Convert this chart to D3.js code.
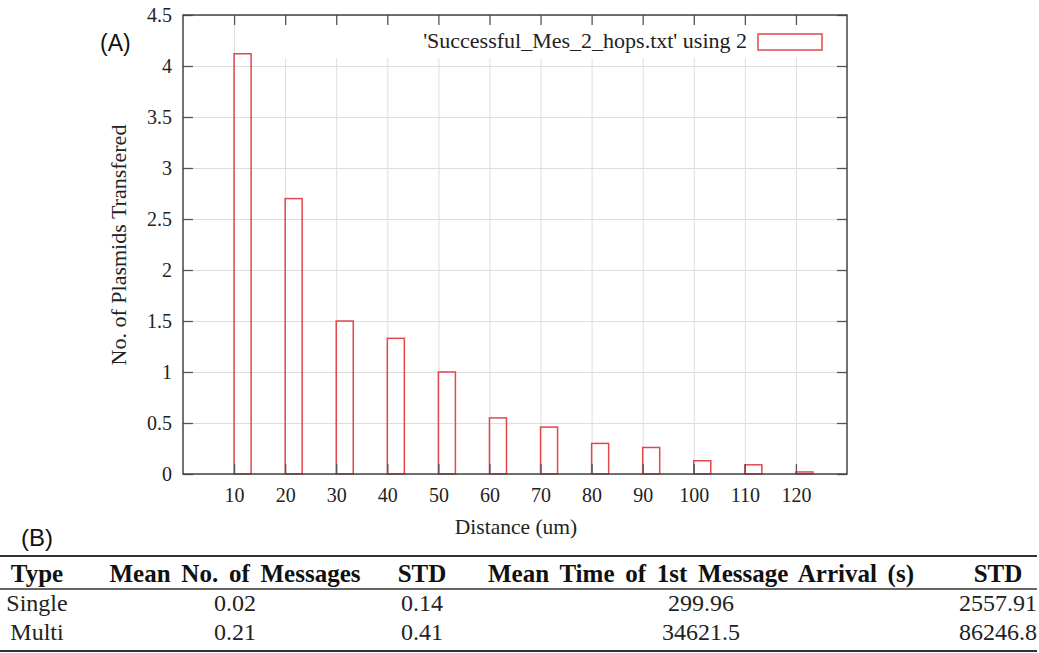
<!DOCTYPE html>
<html>
<head>
<meta charset="utf-8">
<script src="https://cdn.jsdelivr.net/npm/d3@7"></script>
<style>
  html, body { margin: 0; padding: 0; background: #fff; }
  svg { display: block; }
</style>
</head>
<body>
<svg id="fig" width="1039" height="653"></svg>
<script>
// ---- data ----
const distances = [10, 20, 30, 40, 50, 60, 70, 80, 90, 100, 110, 120];
const plasmids  = [4.12, 2.70, 1.50, 1.33, 1.00, 0.55, 0.46, 0.30, 0.26, 0.13, 0.09, 0.02];
const yTicks    = [0, 0.5, 1, 1.5, 2, 2.5, 3, 3.5, 4, 4.5];
const seriesLabel = "'Successful_Mes_2_hops.txt' using 2";
const xTitle = "Distance (um)";
const yTitle = "No. of Plasmids Transfered";

const tableHeader  = ["Type", "Mean No. of Messages", "STD", "Mean Time of 1st Message Arrival (s)", "STD"];
const tableTypes   = ["Single", "Multi"];
const meanMessages = ["0.02", "0.21"];
const stdMessages  = ["0.14", "0.41"];
const meanArrival  = ["299.96", "34621.5"];
const stdArrival   = ["2557.91", "86246.8"];

// ---- layout ----
const serif = "'Liberation Serif', 'Times New Roman', serif";
const sans  = "'Liberation Sans', Arial, sans-serif";
const plot = { left: 183, right: 847, top: 15, bottom: 474 };
const barSpan = 10 / 3;           // box width in data units

const svg = d3.select("#fig");

const x = d3.scaleLinear().domain([0, 130]).range([plot.left, plot.right]);
const y = d3.scaleLinear().domain([0, 4.5]).range([plot.bottom, plot.top]);
const fmt = d => String(d);

// grid
const grid = svg.append("g").attr("class", "grid");
grid.append("g")
  .attr("transform", `translate(0,${plot.bottom})`)
  .call(d3.axisBottom(x).tickValues(distances).tickSize(-(plot.bottom - plot.top)).tickFormat(""));
grid.append("g")
  .attr("transform", `translate(${plot.left},0)`)
  .call(d3.axisLeft(y).tickValues(yTicks).tickSize(-(plot.right - plot.left)).tickFormat(""));
grid.selectAll(".domain").remove();
grid.selectAll("line").attr("stroke", "#dedede").attr("stroke-width", 1);

// opaque key area
svg.append("rect")
  .attr("x", 242).attr("y", 18)
  .attr("width", plot.right - 242 - 1).attr("height", 40)
  .attr("fill", "#fff");

// bars (empty boxes)
svg.append("g").selectAll("rect")
  .data(distances.map((d, i) => ({ d, v: plasmids[i] })))
  .join("rect")
  .attr("x", p => x(p.d))
  .attr("y", p => y(p.v))
  .attr("width", p => x(p.d + barSpan) - x(p.d))
  .attr("height", p => y(0) - y(p.v))
  .attr("fill", "none")
  .attr("stroke", "#e2474c")
  .attr("stroke-width", 1.5);

// axes with inward ticks
const tickLen = 10;
const axL = svg.append("g").attr("transform", `translate(${plot.left},0)`)
  .call(d3.axisLeft(y).tickValues(yTicks).tickSize(-tickLen).tickPadding(11).tickFormat(fmt));
const axR = svg.append("g").attr("transform", `translate(${plot.right},0)`)
  .call(d3.axisRight(y).tickValues(yTicks).tickSize(-tickLen).tickFormat(""));
const axB = svg.append("g").attr("transform", `translate(0,${plot.bottom})`)
  .call(d3.axisBottom(x).tickValues(distances).tickSize(-tickLen).tickPadding(14).tickFormat(fmt));
const axT = svg.append("g").attr("transform", `translate(0,${plot.top})`)
  .call(d3.axisTop(x).tickValues(distances).tickSize(-tickLen).tickFormat(""));
[axL, axR, axB, axT].forEach(a => {
  a.select(".domain").remove();
  a.selectAll("line").attr("stroke", "#555").attr("stroke-width", 1.3);
  a.selectAll("text").attr("font-family", serif).attr("font-size", 20).attr("fill", "#222");
});

// frame
svg.append("rect")
  .attr("x", plot.left).attr("y", plot.top)
  .attr("width", plot.right - plot.left).attr("height", plot.bottom - plot.top)
  .attr("fill", "none").attr("stroke", "#444").attr("stroke-width", 1.5);

// key
svg.append("text")
  .attr("x", 747).attr("y", 48)
  .attr("text-anchor", "end")
  .attr("font-family", serif).attr("font-size", 22).attr("fill", "#222")
  .text(seriesLabel);
svg.append("rect")
  .attr("x", 758).attr("y", 34).attr("width", 64).attr("height", 16)
  .attr("fill", "none").attr("stroke", "#e2474c").attr("stroke-width", 1.5);

// axis titles
svg.append("text")
  .attr("x", 516).attr("y", 534)
  .attr("text-anchor", "middle")
  .attr("font-family", serif).attr("font-size", 21.5).attr("fill", "#222")
  .text(xTitle);
svg.append("text")
  .attr("transform", "translate(126,245) rotate(-90)")
  .attr("text-anchor", "middle")
  .attr("font-family", serif).attr("font-size", 22).attr("fill", "#222")
  .text(yTitle);

// panel letters
svg.append("text")
  .attr("x", 100).attr("y", 51)
  .attr("font-family", sans).attr("font-size", 23).attr("fill", "#111")
  .text("(A)");
svg.append("text")
  .attr("x", 21).attr("y", 546)
  .attr("font-family", sans).attr("font-size", 24).attr("fill", "#111")
  .text("(B)");

// ---- table (B) ----
const colCenters = [37, 235, 422, 701, 998];
const table = svg.append("g");
const rule = (yy, w) => table.append("line")
  .attr("x1", 0).attr("x2", 1037).attr("y1", yy).attr("y2", yy)
  .attr("stroke", "#333").attr("stroke-width", w);
rule(556, 2);
rule(589, 1.3);
rule(651, 2);

table.selectAll("text.head")
  .data(tableHeader)
  .join("text")
  .attr("class", "head")
  .attr("x", (d, i) => colCenters[i]).attr("y", 582)
  .attr("text-anchor", "middle")
  .attr("font-family", serif).attr("font-size", 25).attr("font-weight", "bold")
  .attr("word-spacing", 4.5)
  .attr("fill", "#111")
  .text(d => d);

const rows = tableTypes.map((t, i) => [t, meanMessages[i], stdMessages[i], meanArrival[i], stdArrival[i]]);
rows.forEach((row, r) => {
  table.selectAll(`text.row${r}`)
    .data(row)
    .join("text")
    .attr("class", `row${r}`)
    .attr("x", (d, i) => colCenters[i]).attr("y", 611 + r * 29)
    .attr("text-anchor", "middle")
    .attr("font-family", serif).attr("font-size", 24)
    .attr("fill", "#222")
    .text(d => d);
});
</script>
</body>
</html>
